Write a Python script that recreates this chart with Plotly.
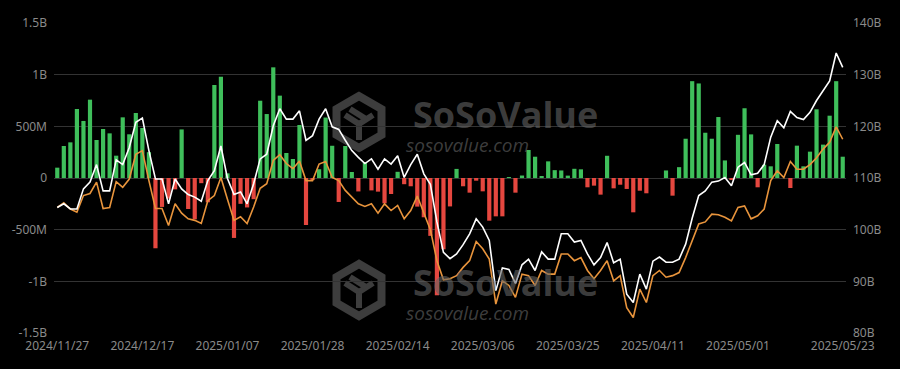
import math
import pandas as pd
import plotly.graph_objects as go

# ---------------- data ----------------
holidays = ["2024-11-28", "2024-12-25", "2025-01-01", "2025-01-09",
            "2025-01-20", "2025-02-17", "2025-04-18"]
dates = [d.strftime("%Y/%m/%d") for d in pd.bdate_range("2024-11-27", "2025-05-23")
         if d.strftime("%Y-%m-%d") not in holidays]

# daily total net inflow, million USD
net_inflow_m = [
    100, 310, 345, 668, 552, 758, 368, 474, 432, 216,
    587, 423, 629, 484, 250, -680, -280, -200, -110, 470,
    -300, -400, -50, -235, 900, 980, 45, -580, -250, -285,
    -205, 748, 619, 1071, 797, 242, 184, 513, -455, -20,
    85, 585, 312, -232, 310, 58, -130, 150, -120, -132,
    -245, -155, 60, -60, -80, -277, -380, -560, -1135, -690,
    -275, 88, -80, -142, -26, -129, -413, -371, -371, 8,
    -142, 24, 271, 206, 15, 161, 76, 73, 23, 89,
    84, -90, -74, -161, 215, -100, -65, -106, -332, -123,
    -148, 0, 0, 73, -171, 105, 380, 937, 915, 438,
    380, 590, 170, -20, 418, 675, 422, -90, 129, 113,
    329, 0, -97, 313, 113, 255, 665, 323, 603, 937,
    206,
]

# total net assets, billion USD (right axis)
total_net_assets_b = [
    104.3, 105.0, 104.0, 104.0, 107.9, 109.2, 112.6, 107.5, 107.5, 113.5,
    112.6, 115.9, 120.8, 121.6, 115.3, 109.8, 109.8, 105.0, 109.8, 107.9,
    106.8, 106.3, 105.5, 109.5, 111.4, 116.2, 109.9, 106.8, 107.3, 105.0,
    108.9, 113.7, 114.6, 120.1, 123.4, 121.4, 121.4, 123.0, 117.3, 118.2,
    121.4, 123.4, 119.9, 119.4, 117.3, 115.3, 114.0, 112.8, 113.7, 111.7,
    113.7, 112.7, 114.3, 110.1, 112.6, 114.6, 110.8, 108.8, 101.5, 95.6,
    94.4, 95.3, 97.1, 99.2, 102.1, 100.5, 97.9, 88.2, 92.6, 92.3,
    89.6, 93.2, 94.3, 92.1, 95.7, 94.3, 94.3, 99.2, 99.2, 97.6,
    97.9, 95.3, 93.2, 94.6, 97.5, 93.6, 94.3, 87.5, 85.9, 91.4,
    88.5, 93.9, 94.7, 93.7, 93.7, 94.3, 97.2, 102.2, 106.6, 107.5,
    109.2, 109.4, 110.1, 108.5, 112.1, 113.0, 110.6, 110.9, 112.6, 117.9,
    121.1, 119.7, 122.9, 121.7, 121.3, 122.7, 125.0, 126.9, 128.8, 134.2,
    131.4,
]

# BTC price line, plotted against the right axis scale
btc_price_line = [
    104.3, 105.2, 104.0, 103.4, 106.6, 107.0, 109.2, 104.1, 104.3, 109.3,
    108.2, 109.8, 114.6, 115.3, 109.5, 104.1, 104.1, 100.8, 105.0, 103.2,
    102.1, 101.8, 101.2, 105.6, 106.6, 110.1, 105.9, 101.8, 102.5, 101.2,
    104.4, 108.0, 108.9, 113.4, 114.5, 112.8, 111.8, 113.3, 109.5, 109.5,
    112.7, 113.2, 110.1, 109.5, 107.6, 106.3, 105.0, 104.5, 105.0, 103.2,
    105.0, 103.7, 104.7, 102.1, 103.7, 106.5, 103.1, 100.0, 94.0, 90.3,
    90.5, 91.1, 92.7, 94.0, 97.7, 96.3, 94.3, 85.6, 90.1, 89.2,
    86.9, 91.4, 91.1, 89.2, 92.1, 91.4, 91.4, 95.3, 95.3, 94.0,
    94.6, 92.1, 90.5, 92.1, 94.0, 90.1, 91.1, 84.9, 83.0, 88.5,
    85.9, 91.1, 92.1, 90.8, 91.1, 91.7, 94.6, 97.9, 101.1, 101.5,
    103.0, 102.9, 102.4, 101.7, 104.3, 104.6, 102.1, 102.7, 104.0, 109.5,
    111.4, 110.1, 113.2, 111.7, 111.7, 112.6, 113.9, 115.6, 116.9, 119.9,
    117.5,
]

x_tick_labels = ["2024/11/27", "2024/12/17", "2025/01/07", "2025/01/28", "2025/02/14",
                 "2025/03/06", "2025/03/25", "2025/04/11", "2025/05/01", "2025/05/23"]
left_tick_vals = [-1.5e9, -1e9, -5e8, 0, 5e8, 1e9, 1.5e9]
left_tick_text = ["-1.5B", "-1B", "-500M", "0", "500M", "1B", "1.5B"]
right_tick_vals = [80, 90, 100, 110, 120, 130, 140]
right_tick_text = ["80B", "90B", "100B", "110B", "120B", "130B", "140B"]

# ---------------- style ----------------
GREEN = "#3fbf5b"
RED = "#e5473f"
ORANGE = "#e8943c"
TICK = "#8a8a8a"
GRID = "#333333"
WM = "rgba(100,100,100,0.62)"
LOGO = "#3d3d3d"
FONT = "Noto Sans"

W, H = 900, 369
ML, MR, MT, MB = 54, 54, 23, 36
PW, PH = W - ML - MR, H - MT - MB

fig = go.Figure()
fig.add_trace(go.Bar(
    x=dates, y=[v * 1e6 for v in net_inflow_m],
    marker=dict(color=[GREEN if v >= 0 else RED for v in net_inflow_m], line_width=0),
    yaxis="y", name="Daily Net Inflow",
))
fig.add_trace(go.Scatter(
    x=dates, y=btc_price_line, yaxis="y2", mode="lines",
    line=dict(color=ORANGE, width=1.6), name="BTC Price",
))
fig.add_trace(go.Scatter(
    x=dates, y=total_net_assets_b, yaxis="y2", mode="lines",
    line=dict(color="#ffffff", width=1.6), name="Total Net Assets",
))


def px2paper(px, py):
    return (px - ML) / PW, (H - MB - py) / PH


def hexagon_path(cx, cy, r):
    pts = []
    for k in range(6):
        a = math.radians(90 + 60 * k)
        pts.append(px2paper(cx + r * math.cos(a), cy - r * math.sin(a)))
    return "M " + " L ".join(f"{x:.4f},{y:.4f}" for x, y in pts) + " Z"


shapes = []
annotations = []
for cy_logo, cy_txt, cy_url in [(122, 114, 145), (290, 282, 313)]:
    shapes.append(dict(type="path", path=hexagon_path(359, cy_logo, 26), xref="paper", yref="paper",
                       line=dict(color=LOGO, width=8), layer="below"))
    for (x0, y0, x1, y1) in [(359, cy_logo + 2, 359, cy_logo + 18), (359, cy_logo + 2, 345, cy_logo - 7),
                             (359, cy_logo + 2, 373, cy_logo - 7), (350, cy_logo - 13, 366, cy_logo - 3)]:
        a0 = px2paper(x0, y0)
        a1 = px2paper(x1, y1)
        shapes.append(dict(type="line", x0=a0[0], y0=a0[1], x1=a1[0], y1=a1[1], xref="paper", yref="paper",
                           line=dict(color=LOGO, width=6), layer="below"))
    tx, ty = px2paper(505, cy_txt)
    annotations.append(dict(text="<b>SoSoValue</b>", x=tx, y=ty, xref="paper", yref="paper",
                            xanchor="center", yanchor="middle", borderpad=0,
                            showarrow=False, font=dict(family="Open Sans", size=36, color=WM)))
    ux, uy = px2paper(405, cy_url)
    annotations.append(dict(text="sosovalue.com", x=ux, y=uy, xref="paper", yref="paper",
                            xanchor="left", yanchor="middle", showarrow=False, borderpad=0,
                            font=dict(family="Open Sans", size=19, color=WM, style="italic")))

fig.update_layout(
    width=W, height=H,
    margin=dict(l=ML, r=MR, t=MT, b=MB, pad=0),
    paper_bgcolor="#000000", plot_bgcolor="#000000",
    showlegend=False, bargap=0.36,
    font=dict(family=FONT, size=12, color=TICK),
    xaxis=dict(type="category", tickvals=x_tick_labels, ticktext=x_tick_labels,
               showgrid=False, zeroline=False, showline=False, ticks="",
               ticklabelstandoff=4,
               tickfont=dict(size=12, color=TICK), tickangle=0,
               range=[-0.5, len(dates) - 0.5]),
    yaxis=dict(range=[-1.5e9, 1.5e9], tickvals=left_tick_vals, ticktext=left_tick_text,
               showgrid=True, gridcolor=GRID, gridwidth=1, zeroline=False, showline=False,
               ticks="", ticklabelstandoff=6, tickfont=dict(size=12, color=TICK)),
    yaxis2=dict(range=[80, 140], tickvals=right_tick_vals, ticktext=right_tick_text,
                overlaying="y", side="right", showgrid=False, zeroline=False, showline=False,
                ticks="", ticklabelstandoff=6, tickfont=dict(size=12, color=TICK)),
    shapes=shapes, annotations=annotations,
)

fig.write_html("out.html")
